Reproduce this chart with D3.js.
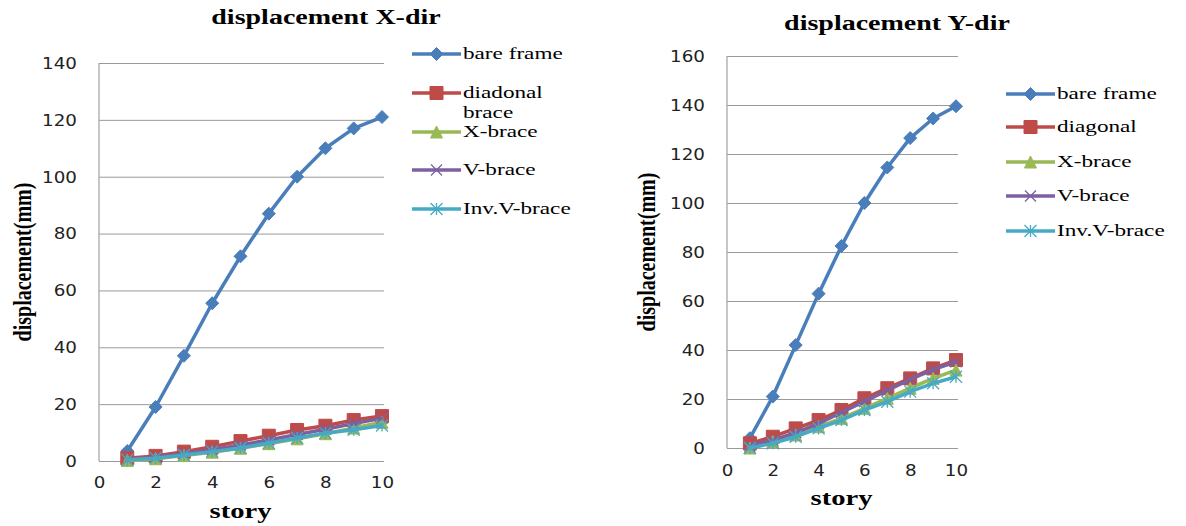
<!DOCTYPE html>
<html><head><meta charset="utf-8">
<script src="https://cdn.jsdelivr.net/npm/d3@7"></script>
<style>
html,body{margin:0;padding:0;background:#fff;}
svg{display:block;}
</style></head>
<body>
<svg id="chart" width="1186" height="526"></svg>
<script>
// ---------- data ----------
const stories = [1,2,3,4,5,6,7,8,9,10];
const xTicks = [0,2,4,6,8,10];
const seriesNames = ["bare frame","diagonal","X-brace","V-brace","Inv.V-brace"];
const seriesColors = ["#4A7EBB","#BE4B48","#98B954","#7D60A0","#46AAC5"];
const seriesMarkers = ["diamond","square","triangle","x","asterisk"];

// X-direction
const titleX = "displacement X-dir";
const legendX = ["bare frame",["diadonal","brace"],"X-brace","V-brace","Inv.V-brace"];
const yTicksX = [0,20,40,60,80,100,120,140];
const bareX   = [3.5, 19, 37, 55.5, 72, 87, 100, 110, 117, 121];
const diagX   = [1.0, 1.8, 3.3, 5.0, 7.0, 8.9, 10.9, 12.4, 14.4, 15.8];
const xbrX    = [0.2, 0.8, 1.9, 3.1, 4.5, 6.1, 7.8, 9.6, 11.6, 13.6];
const vbrX    = [0.5, 1.3, 2.6, 4.0, 5.6, 7.4, 9.3, 11.2, 13.2, 15.0];
const invX    = [0.4, 1.0, 2.1, 3.3, 4.6, 6.3, 8.1, 9.8, 11.0, 12.5];

// Y-direction
const titleY = "displacement Y-dir";
const legendY = ["bare frame","diagonal","X-brace","V-brace","Inv.V-brace"];
const yTicksY = [0,20,40,60,80,100,120,140,160];
const bareY   = [4, 21, 42, 63, 82.5, 100, 114.5, 126.5, 134.5, 139.5];
const diagY   = [1.9, 4.6, 8.0, 11.4, 15.5, 20.3, 24.4, 28.4, 32.5, 35.9];
const xbrY    = [0.0, 2.6, 5.3, 8.7, 12.1, 16.2, 20.3, 24.4, 28.4, 31.8];
const vbrY    = [0.8, 3.2, 6.3, 10.0, 14.5, 19.0, 23.5, 28.0, 32.0, 35.2];
const invY    = [0.0, 1.9, 4.6, 8.0, 11.4, 15.5, 18.9, 23.0, 26.4, 29.1];

const axisXLabel = "story";
const axisYLabel = "displacement(mm)";

// ---------- drawing ----------
const svg = d3.select("#chart");
const SX = 1.42; // horizontal stretch of the original picture

function stext(g, x, y, str, o) {
  return g.append("text")
    .attr("transform", `translate(${x},${y}) scale(${o.sx||SX},1)` + (o.rot ? " rotate(-90)" : ""))
    .attr("text-anchor", o.anchor || "start")
    .attr("dominant-baseline", o.base || "auto")
    .style("font-family", o.family || "'Liberation Serif','Times New Roman',serif")
    .style("font-weight", o.weight || "normal")
    .style("font-size", (o.size || 16) + "px")
    .style("fill", o.fill || "#000")
    .text(str);
}

function markerPath(type, s) {
  switch (type) {
    case "diamond": return `M0,${-s/2}L${s/2},0L0,${s/2}L${-s/2},0Z`;
    case "square": return `M${-s/2},${-s/2}h${s}v${s}h${-s}Z`;
    case "triangle": return `M0,${-s/2}L${s/2},${s/2}L${-s/2},${s/2}Z`;
    case "x": return `M${-s/2},${-s/2}L${s/2},${s/2}M${-s/2},${s/2}L${s/2},${-s/2}`;
    case "asterisk": return `M${-s/2},${-s/2}L${s/2},${s/2}M${-s/2},${s/2}L${s/2},${-s/2}M0,${-s/2}V${s/2}`;
  }
}
function drawMarker(g, type, color, x, y) {
  const size = {diamond:13, square:13, triangle:12, x:11, asterisk:12}[type];
  const filled = (type === "diamond" || type === "square" || type === "triangle");
  g.append("path").attr("d", markerPath(type, size))
    .attr("transform", `translate(${x},${y})`)
    .attr("fill", filled ? color : "none")
    .attr("stroke", color)
    .attr("stroke-width", filled ? 1 : 1.3);
}

function chart(cfg) {
  const g = svg.append("g");
  const x = d3.scaleLinear().domain([0,10]).range(cfg.xr);
  const y = d3.scaleLinear().domain([0, cfg.ymax]).range(cfg.yr);

  // gridlines
  g.append("g").attr("transform", `translate(${cfg.xr[0]},0)`)
    .call(d3.axisLeft(y).tickValues(cfg.yTicks).tickSize(-(cfg.xr[1]-cfg.xr[0]+2)).tickFormat(""))
    .call(a => a.select(".domain").remove())
    .call(a => a.selectAll("line").attr("stroke", "#9a9a9a").attr("stroke-width", 1));
  // y axis line
  g.append("line").attr("x1", cfg.xr[0]).attr("x2", cfg.xr[0])
    .attr("y1", y(0)).attr("y2", y(cfg.ymax)).attr("stroke", "#a8a8a8").attr("stroke-width", 1.3);

  // y tick labels
  const ya = g.append("g").attr("transform", `translate(${cfg.xr[0]},0)`)
    .call(d3.axisLeft(y).tickValues(cfg.yTicks).tickSize(0).tickPadding(0));
  ya.select(".domain").remove();
  ya.selectAll("text").attr("x", null).attr("dy", null)
    .attr("transform", `translate(-22,0) scale(1.22,1)`)
    .attr("dominant-baseline", "central")
    .style("font-family", "'DejaVu Sans',sans-serif").style("font-size", "15px").style("fill", "#222");

  // x tick labels
  const xa = g.append("g").attr("transform", `translate(0,${cfg.yr[0]})`)
    .call(d3.axisBottom(x).tickValues(xTicks).tickSize(0).tickPadding(0));
  xa.select(".domain").remove();
  xa.selectAll("text").attr("y", null).attr("dy", null)
    .attr("transform", `translate(0,${cfg.xtickDy}) scale(1.22,1)`)
    .attr("dominant-baseline", "central")
    .style("font-family", "'DejaVu Sans',sans-serif").style("font-size", "15px").style("fill", "#222");

  // titles
  stext(g, cfg.titlePos[0], cfg.titlePos[1], cfg.title, {anchor:"middle", weight:"bold", size:20, sx:1.4});
  stext(g, (cfg.xr[0]+cfg.xr[1])/2, cfg.storyY, axisXLabel, {anchor:"middle", weight:"bold", size:20, sx:1.43});
  stext(g, cfg.ylabX, (cfg.yr[0]+cfg.yr[1])/2, axisYLabel, {anchor:"middle", weight:"bold", size:20, sx:1.3, rot:true, base:"central"});

  // series
  const line = d3.line().x((d,i) => x(stories[i])).y(d => y(d));
  cfg.series.forEach((vals, si) => {
    g.append("path").datum(vals).attr("d", line)
      .attr("fill", "none").attr("stroke", seriesColors[si]).attr("stroke-width", 3.5)
      .attr("stroke-linejoin", "round");
    vals.forEach((v, i) => drawMarker(g, seriesMarkers[si], seriesColors[si], x(stories[i]), y(v)));
  });

  // legend
  cfg.legend.forEach((lab, si) => {
    const ly = cfg.legRows[si];
    g.append("line").attr("x1", cfg.legX[0]).attr("x2", cfg.legX[1]).attr("y1", ly).attr("y2", ly)
      .attr("stroke", seriesColors[si]).attr("stroke-width", 3.5);
    drawMarker(g, seriesMarkers[si], seriesColors[si], (cfg.legX[0]+cfg.legX[1])/2, ly);
    const labs = Array.isArray(lab) ? lab : [lab];
    labs.forEach((t, k) => stext(g, cfg.legX[1]+2, ly + 5 + k*19.5, t, {size:16, sx:1.45}));
  });
}

chart({
  xr:[99,382], yr:[461,63], ymax:140, yTicks:yTicksX, xtickDy:22,
  title:titleX, titlePos:[326,24], storyY:518, ylabX:22,
  series:[bareX, diagX, xbrX, vbrX, invX], legend:legendX,
  legX:[412,461], legRows:[54,93,132,170,209]
});
chart({
  xr:[727,956], yr:[448,56], ymax:160, yTicks:yTicksY, xtickDy:23,
  title:titleY, titlePos:[897,30], storyY:505, ylabX:646,
  series:[bareY, diagY, xbrY, vbrY, invY], legend:legendY,
  legX:[1006,1055], legRows:[94,127,162,196,231]
});
</script>
</body></html>
